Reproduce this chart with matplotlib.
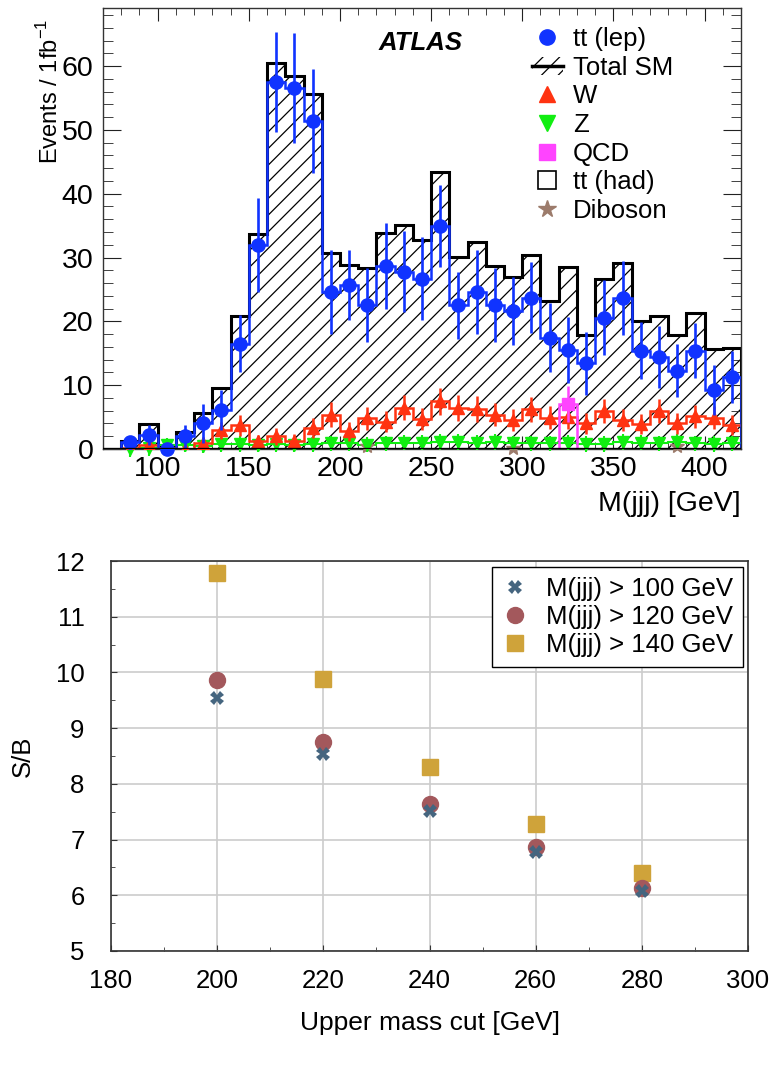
import numpy as np
import matplotlib
matplotlib.use("Agg")
import matplotlib.pyplot as plt
from matplotlib.lines import Line2D
from matplotlib.patches import Patch
from matplotlib.ticker import MultipleLocator

plt.rcParams['font.family'] = ['Liberation Sans', 'DejaVu Sans']
plt.rcParams['hatch.linewidth'] = 0.9

# ---- top panel: M(jjj) distribution, 10 GeV bins from 80 to 420
edges = np.arange(80, 430, 10)
centers = edges[:-1] + 5

tt_lep = [1.05, 2.2, 0.0, 2.0, 4.0, 6.1, 16.5, 32.0, 57.5, 56.6,
          51.4, 24.6, 25.7, 22.5, 28.7, 27.8, 26.7, 34.9, 22.5, 24.6,
          22.5, 21.6, 23.7, 17.4, 15.5, 13.4, 20.6, 23.7, 15.4, 14.4,
          12.3, 15.4, 9.2, 11.3]
tt_lep_err = [1.0, 1.5, 1.0, 1.8, 3.0, 3.2, 4.5, 7.4, 7.9, 8.6,
              8.1, 6.6, 5.5, 5.8, 6.7, 6.3, 6.5, 6.4, 5.2, 6.6,
              5.8, 5.3, 5.6, 5.4, 5.2, 4.9, 5.9, 5.8, 4.5, 4.9,
              4.1, 4.3, 3.9, 4.1]
total_sm = [1.2, 3.9, 0.4, 2.6, 5.6, 9.5, 20.8, 33.7, 60.5, 58.4,
            55.6, 30.7, 28.8, 28.4, 33.9, 35.1, 32.7, 43.4, 30.1, 32.5,
            28.7, 27.0, 30.4, 23.2, 28.5, 17.8, 26.7, 29.2, 20.0, 20.9,
            17.8, 21.3, 15.6, 15.8]
w_bkg = [0.2, 0.6, 0.1, 0.0, 0.9, 2.9, 3.7, 1.2, 2.0, 1.3,
         3.3, 5.4, 2.8, 4.8, 4.3, 6.5, 4.7, 7.5, 6.4, 6.3,
         5.4, 4.5, 6.2, 4.9, 5.0, 4.0, 5.9, 4.5, 3.9, 5.9,
         4.0, 5.1, 4.9, 3.8]
w_err = [0.5, 1.0, 0.5, 0.8, 1.0, 1.4, 1.6, 1.0, 1.3, 1.1,
         1.6, 1.9, 1.5, 1.8, 1.7, 2.0, 1.8, 2.1, 2.0, 2.0,
         1.8, 1.7, 2.0, 1.8, 1.9, 1.6, 1.9, 1.7, 1.6, 1.9,
         1.6, 1.8, 1.8, 1.6]
z_bkg = [0.0, 0.1, 0.6, 0.7, 0.5, 0.8, 0.8, 0.7, 0.8, 0.7,
         0.8, 0.9, 0.9, 0.7, 0.9, 1.0, 1.0, 1.1, 1.1, 1.0,
         1.1, 0.9, 0.9, 0.9, 1.0, 0.8, 0.8, 1.1, 1.0, 0.9,
         1.1, 0.9, 0.8, 0.9]
z_err = 1.2
qcd_edges = [320, 330]
qcd_val = [7.0]
qcd_err = [2.8]
dib_x = [215, 295, 385]
dib_y = [0.5, 0.2, 0.4]

# ---- bottom panel: S/B vs upper mass cut
cuts = [200, 220, 240, 260, 280]
sb_100 = [9.54, 8.53, 7.51, 6.78, 6.08]
sb_120 = [9.87, 8.75, 7.63, 6.87, 6.13]
sb_140 = [11.78, 9.88, 8.30, 7.28, 6.40]

blue = '#1033ff'
red = '#ff3311'
green = '#11ee11'
magenta = '#ff44ff'
brown = '#9c7b6b'

fig = plt.figure(figsize=(7.71, 10.73), dpi=100)
ax = fig.add_axes([103/771, 1-449/1073, (741-103)/771, (449-8)/1073])

ax.stairs(total_sm, edges, baseline=0, fill=True, facecolor='none',
          edgecolor='black', hatch='//', linewidth=0, zorder=1)
ax.stairs(total_sm, edges, baseline=0, color='black', linewidth=2.2, zorder=2)

ax.stairs(z_bkg, edges, baseline=None, color=green, linewidth=1.5, zorder=3)
ax.errorbar(centers, z_bkg, yerr=z_err, fmt='v', color=green, ms=8,
            elinewidth=1.5, capsize=0, zorder=3, clip_on=False)

ax.stairs(w_bkg, edges, baseline=None, color=red, linewidth=1.8, zorder=4)
ax.errorbar(centers, w_bkg, yerr=w_err, fmt='^', color=red, ms=8.5,
            elinewidth=1.8, capsize=0, zorder=4)

ax.stairs(qcd_val, qcd_edges, baseline=0, color=magenta, linewidth=1.8, zorder=4)
ax.errorbar([325], qcd_val, yerr=qcd_err, fmt='s', color=magenta, ms=9,
            elinewidth=1.8, capsize=0, zorder=5)

ax.plot(dib_x, dib_y, '*', color=brown, ms=10, zorder=3, clip_on=False)

ax.stairs(tt_lep, edges, baseline=0, color=blue, linewidth=1.8, zorder=6)
ax.errorbar(centers, tt_lep, yerr=tt_lep_err, fmt='o', color=blue, ms=9.5,
            elinewidth=1.9, capsize=0, zorder=7, clip_on=False)

ax.axhline(0, color='black', linewidth=2.4, zorder=8)

ax.set_xlim(70, 420)
ax.set_ylim(0, 69.1)
ax.xaxis.set_major_locator(MultipleLocator(50))
ax.xaxis.set_minor_locator(MultipleLocator(10))
ax.yaxis.set_major_locator(MultipleLocator(10))
ax.yaxis.set_minor_locator(MultipleLocator(2))
ax.tick_params(which='both', direction='in', top=True, right=True,
               labelsize=20.5, color='#222222')
ax.tick_params(axis='x', which='major', length=9.4, pad=5)
ax.tick_params(axis='x', which='minor', length=5)
ax.tick_params(axis='y', which='major', length=13, pad=7)
ax.tick_params(axis='y', which='minor', length=7)
for s in ax.spines.values():
    s.set_color('#333333')
    s.set_linewidth(1.0)

fig.text(741/771, 1-504/1073, 'M(jjj) [GeV]', ha='right', va='center', fontsize=20.5)
fig.text(50/771, 1-19/1073, 'Events / 1fb$^{\\mathregular{-1}}$', rotation=90,
         ha='center', va='top', fontsize=17)
fig.text(379/771, 1-43/1073, 'ATLAS', fontsize=18.5, fontweight='bold',
         fontstyle='italic', va='center', ha='left')

handles = [
    Line2D([], [], marker='o', color=blue, ls='none', ms=11),
    (Patch(facecolor='none', edgecolor='black', hatch='//', linewidth=0),
     Line2D([], [], color='black', lw=2.5)),
    Line2D([], [], marker='^', color=red, ls='none', ms=12),
    Line2D([], [], marker='v', color=green, ls='none', ms=12),
    Line2D([], [], marker='s', color=magenta, ls='none', ms=12),
    Line2D([], [], marker='s', mfc='white', mec='black', ls='none', ms=13, mew=1.2),
    Line2D([], [], marker='*', color=brown, ls='none', ms=13),
]
labels = ['tt (lep)', 'Total SM', 'W', 'Z', 'QCD', 'tt (had)', 'Diboson']
ax.legend(handles, labels, loc='upper left', bbox_to_anchor=(532/771, 1-27/1073),
          bbox_transform=fig.transFigure, frameon=False, fontsize=18.5,
          handlelength=1.2, handletextpad=0.4, labelspacing=0.18,
          borderaxespad=0, borderpad=0)

# ---- bottom panel
ax2 = fig.add_axes([111/771, 1-951/1073, (748-111)/771, (951-561)/1073])
ax2.plot(cuts, sb_140, 's', color='#cfa33a', ms=11, zorder=3, label='M(jjj) > 140 GeV')
ax2.plot(cuts, sb_120, 'o', color='#a3585c', ms=11.5, zorder=4, label='M(jjj) > 120 GeV')
ax2.plot(cuts, sb_100, 'X', color='#45657f', ms=10, mew=0, zorder=5, label='M(jjj) > 100 GeV')

ax2.set_xlim(180, 300)
ax2.set_ylim(5, 12)
ax2.xaxis.set_major_locator(MultipleLocator(20))
ax2.xaxis.set_minor_locator(MultipleLocator(10))
ax2.yaxis.set_major_locator(MultipleLocator(1))
ax2.yaxis.set_minor_locator(MultipleLocator(0.5))
ax2.grid(True, which='major', color='#cccccc', linewidth=1.2)
ax2.set_axisbelow(True)
ax2.tick_params(which='both', direction='in', labelsize=18.5, color='#333333')
ax2.tick_params(which='major', length=4)
ax2.tick_params(which='minor', length=3)
ax2.tick_params(axis='x', which='major', pad=13)
ax2.tick_params(axis='y', which='major', pad=19)
for s in ax2.spines.values():
    s.set_color('#333333')
    s.set_linewidth(1.2)

fig.text(430/771, 1-1023/1073, 'Upper mass cut [GeV]', ha='center', va='center', fontsize=19)
fig.text(23/771, 1-756/1073, 'S/B', rotation=90, ha='center', va='center', fontsize=18.5)

h, l = ax2.get_legend_handles_labels()
leg = ax2.legend(h[::-1], l[::-1], loc='upper right', bbox_to_anchor=(743/771, 1-567/1073),
                 bbox_transform=fig.transFigure, fontsize=18.5, fancybox=False,
                 framealpha=1, edgecolor='black', handletextpad=0.7, handlelength=1.0,
                 labelspacing=0.15, borderaxespad=0, borderpad=0.4)
leg.get_frame().set_linewidth(1.0)

fig.savefig('out.png', dpi=100)
